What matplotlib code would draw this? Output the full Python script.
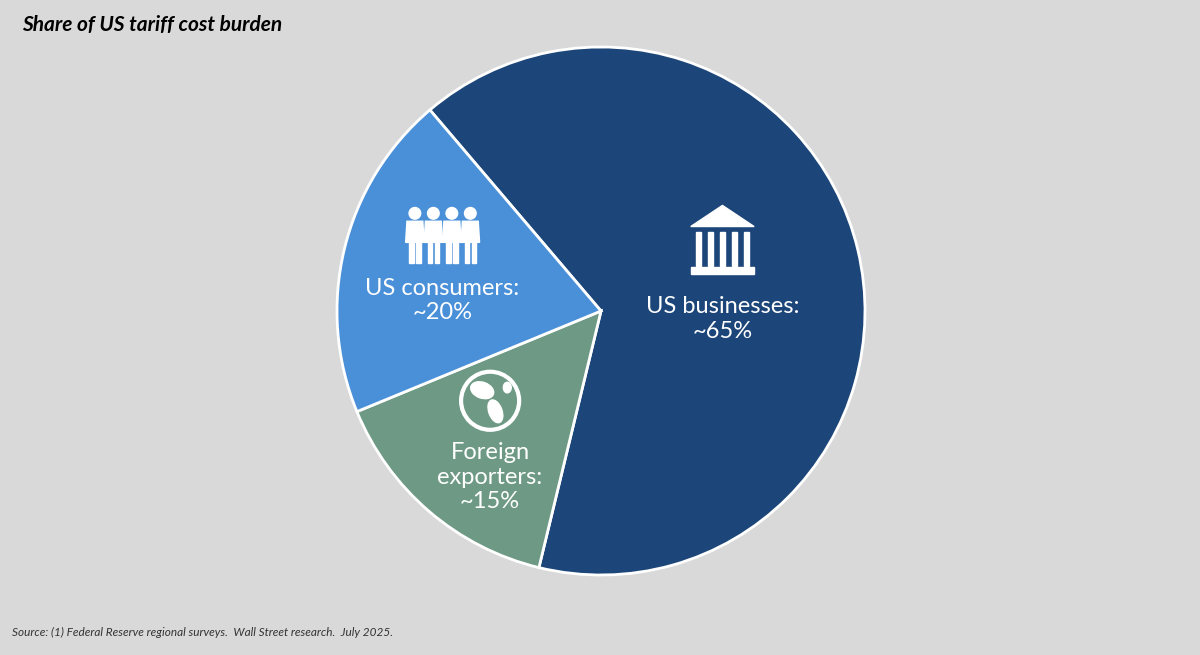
import numpy as np
import matplotlib
matplotlib.use("Agg")
import matplotlib.pyplot as plt
from matplotlib.patches import Polygon, Rectangle, Circle, Ellipse

labels = ["US businesses:\n~65%", "Foreign\nexporters:\n~15%", "US consumers:\n~20%"]
shares = [65, 15, 20]
colors = ["#1c4679", "#6e9a85", "#4a90d9"]
label_pos = [(0.46, -0.03), (-0.42, -0.63), (-0.60, 0.04)]

bg = "#d9d9d9"
fig = plt.figure(figsize=(12, 6.55), dpi=100, facecolor=bg)
ax = fig.add_axes([310.6 / 1200, 53.6 / 655, 580.8 / 1200, 580.8 / 655])
ax.set_facecolor(bg)
ax.pie(shares, colors=colors, startangle=130.4, counterclock=False,
       radius=1, wedgeprops=dict(edgecolor="white", linewidth=2))
ax.set_xlim(-1.1, 1.1)
ax.set_ylim(-1.1, 1.1)
ax.set_aspect("equal")
ax.axis("off")

for lab, (x, y) in zip(labels, label_pos):
    ax.text(x, y, lab, color="white", fontsize=17, ha="center", va="center",
            linespacing=1.2, family="Lato")

# bank icon
bx, by = 0.46, 0.27
ax.add_patch(Polygon([[bx - 0.12, by + 0.05], [bx + 0.12, by + 0.05], [bx, by + 0.13]],
                     color="white"))
for i in range(5):
    ax.add_patch(Rectangle((bx - 0.10 + i * 0.045, by - 0.10), 0.02, 0.13, color="white"))
ax.add_patch(Rectangle((bx - 0.12, by - 0.13), 0.24, 0.025, color="white"))

# people icon
px, py = -0.60, 0.29
for i in range(4):
    cx = px - 0.105 + i * 0.07
    ax.add_patch(Circle((cx, py + 0.08), 0.022, color="white"))
    ax.add_patch(Polygon([[cx - 0.03, py + 0.05], [cx + 0.03, py + 0.05],
                          [cx + 0.035, py - 0.03], [cx - 0.035, py - 0.03]], color="white"))
    ax.add_patch(Rectangle((cx - 0.022, py - 0.11), 0.017, 0.09, color="white"))
    ax.add_patch(Rectangle((cx + 0.005, py - 0.11), 0.017, 0.09, color="white"))

# globe icon
gx, gy = -0.42, -0.34
ax.add_patch(Circle((gx, gy), 0.11, facecolor="none", edgecolor="white", linewidth=3))
ax.add_patch(Ellipse((gx - 0.03, gy + 0.04), 0.09, 0.06, angle=-20, color="white"))
ax.add_patch(Ellipse((gx + 0.02, gy - 0.04), 0.05, 0.09, angle=20, color="white"))
ax.add_patch(Ellipse((gx + 0.065, gy + 0.05), 0.03, 0.04, color="white"))

fig.text(22 / 1200, 1 - 25 / 655, "Share of US tariff cost burden", fontsize=15,
         fontweight="bold", fontstyle="italic", va="center", family="Lato")
fig.text(12 / 1200, 1 - 632 / 655,
         "Source: (1) Federal Reserve regional surveys.  Wall Street research.  July 2025.",
         fontsize=8.5, fontstyle="italic", va="center", color="#333333", family="Lato")

fig.savefig("out.png", dpi=100, facecolor=bg)
